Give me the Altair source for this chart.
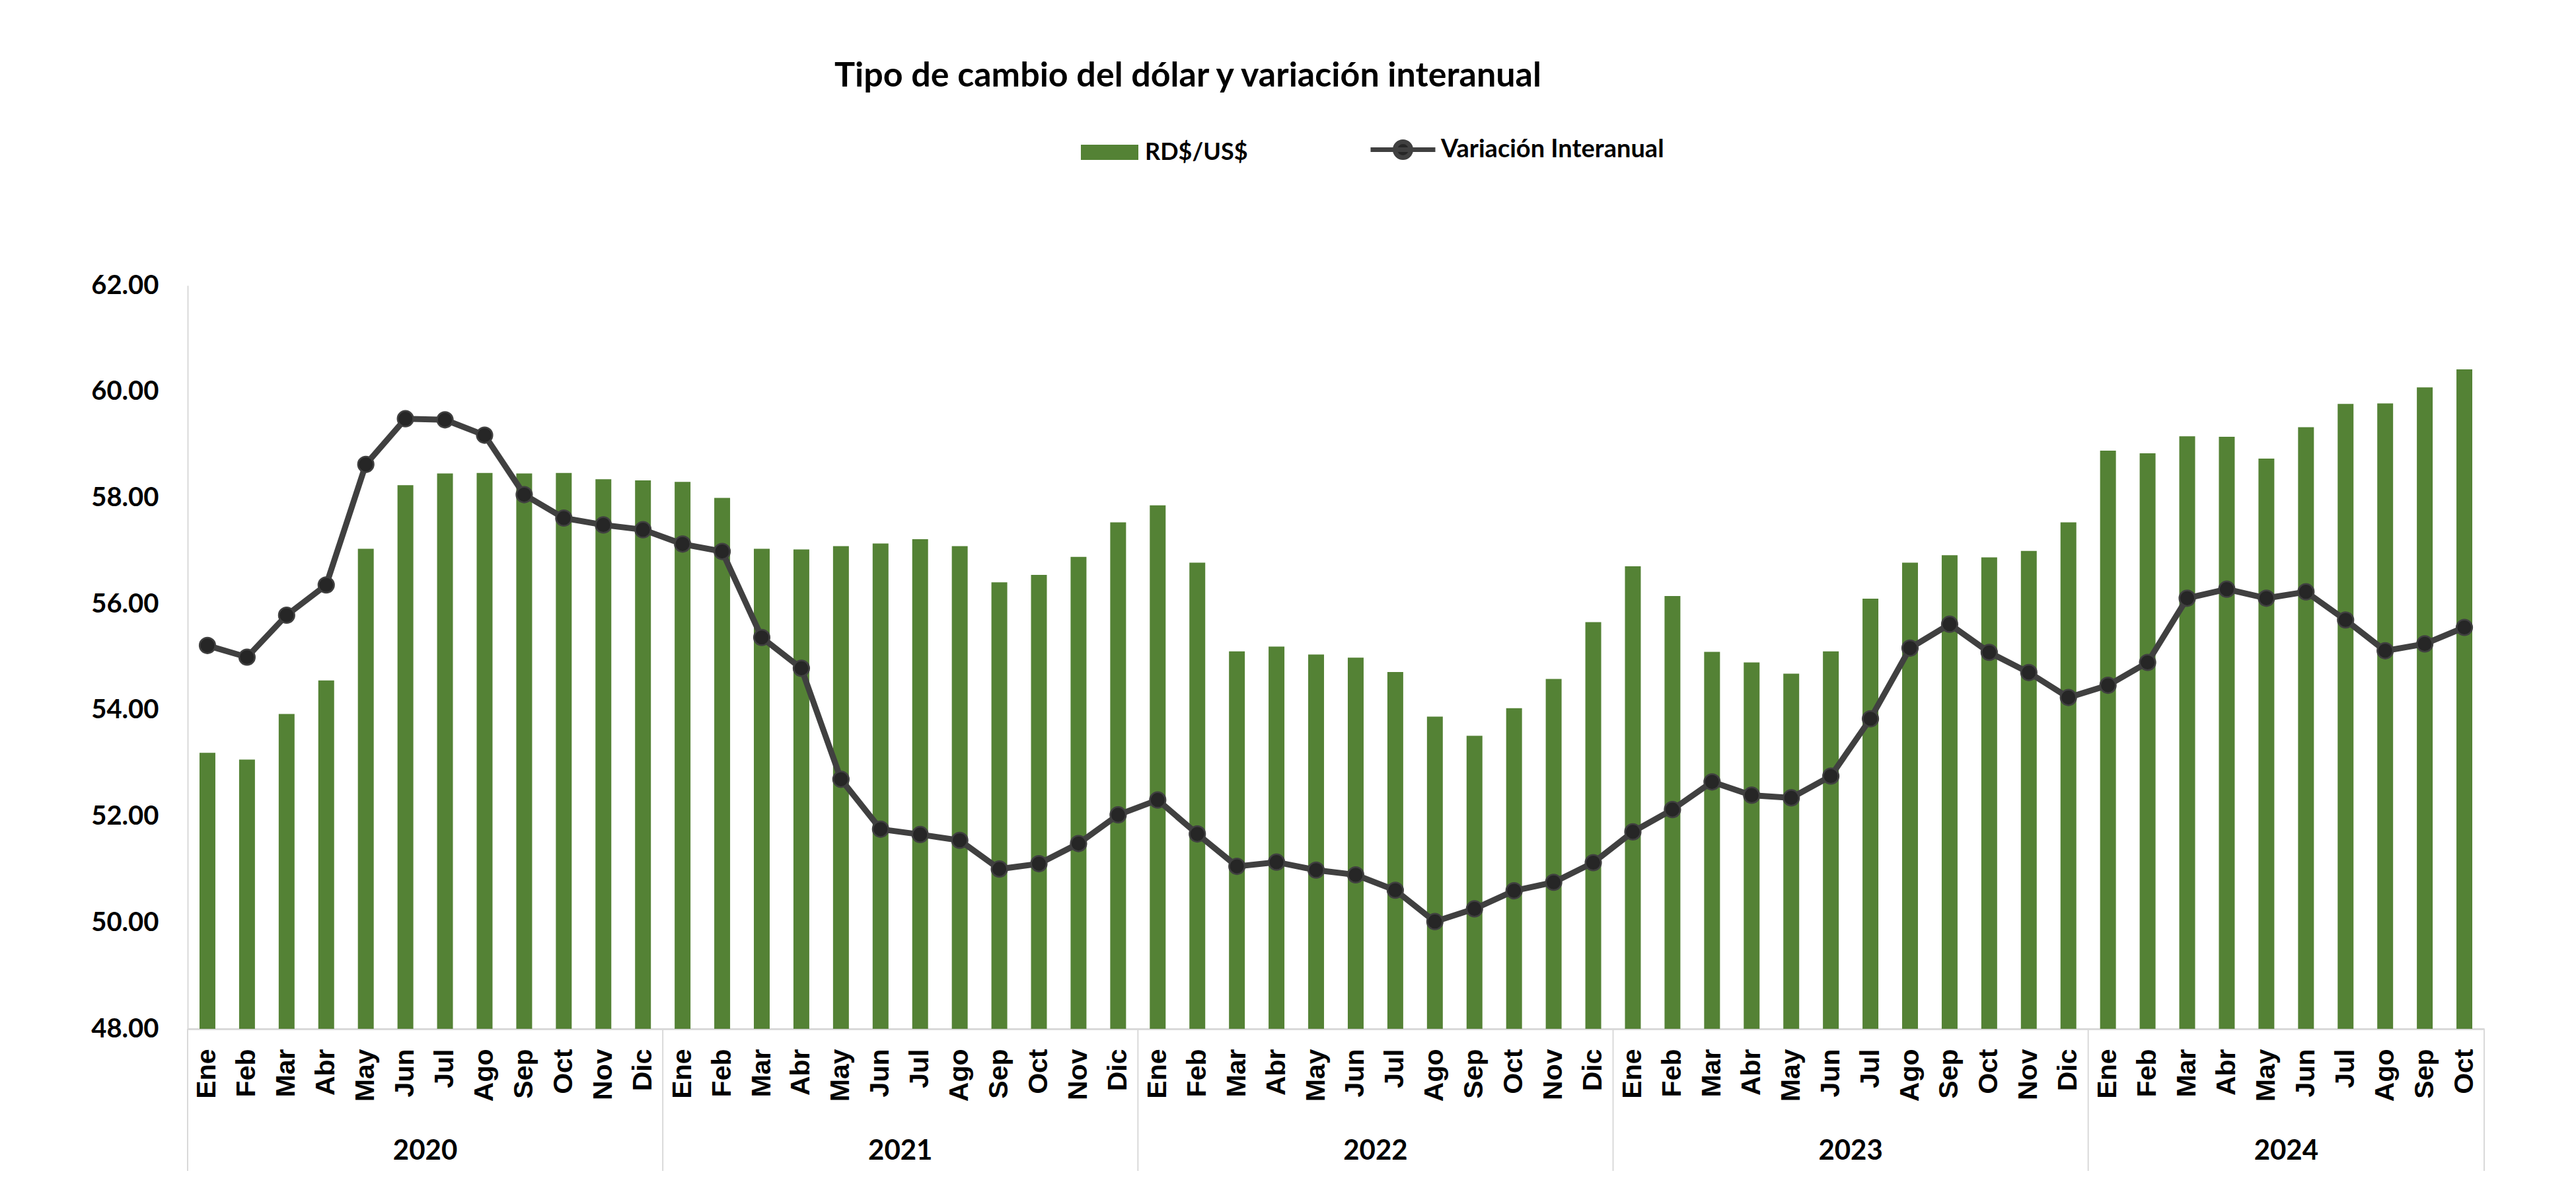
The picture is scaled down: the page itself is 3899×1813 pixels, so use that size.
import altair as alt
import pandas as pd

# ---------------- data ----------------
meses = ["Ene", "Feb", "Mar", "Abr", "May", "Jun", "Jul", "Ago", "Sep", "Oct", "Nov", "Dic"]
anios = ["2020", "2021", "2022", "2023", "2024"]
meses_por_anio = [12, 12, 12, 12, 10]

tasa = [
    53.20, 53.07, 53.93, 54.56, 57.04, 58.24, 58.46, 58.47, 58.46, 58.47, 58.35, 58.33,
    58.30, 58.00, 57.04, 57.03, 57.09, 57.14, 57.22, 57.09, 56.41, 56.55, 56.89, 57.54,
    57.86, 56.78, 55.11, 55.20, 55.05, 54.99, 54.72, 53.88, 53.52, 54.04, 54.59, 55.66,
    56.71, 56.15, 55.10, 54.90, 54.69, 55.11, 56.10, 56.78, 56.92, 56.88, 57.00, 57.54,
    58.89, 58.84, 59.16, 59.15, 58.74, 59.33, 59.77, 59.78, 60.08, 60.42,
]
variacion = [
    55.22, 55.00, 55.79, 56.36, 58.63, 59.49, 59.47, 59.18, 58.06, 57.62, 57.49, 57.40,
    57.13, 56.99, 55.37, 54.79, 52.70, 51.76, 51.66, 51.55, 51.01, 51.11, 51.49, 52.03,
    52.31, 51.67, 51.06, 51.14, 50.99, 50.90, 50.61, 50.02, 50.26, 50.60, 50.76, 51.13,
    51.71, 52.13, 52.65, 52.40, 52.35, 52.76, 53.84, 55.17, 55.62, 55.09, 54.71, 54.24,
    54.47, 54.90, 56.11, 56.28, 56.11, 56.23, 55.70, 55.12, 55.25, 55.56,
]
y_ticks = [48, 50, 52, 54, 56, 58, 60, 62]
serie_barras = "RD$/US$"
serie_linea = "Variación Interanual"
titulo = "Tipo de cambio del dólar y variación interanual"

# ---------------- tables ----------------
rows = []
i = 0
for a, n in zip(anios, meses_por_anio):
    for m in range(n):
        rows.append({"idx": i, "anio": a, "mes": meses[m],
                     "tasa": tasa[i], "variacion": variacion[i],
                     "sb": serie_barras, "sl": serie_linea})
        i += 1
df = pd.DataFrame(rows)
N = len(df)

sep, cen = [], []
start = 0
for a, n in zip(anios, meses_por_anio):
    sep.append(start - 0.5)
    cen.append({"anio": a, "c": start + (n - 1) / 2})
    start += n
sep.append(start - 0.5)
df_sep = pd.DataFrame({"pos": sep})
df_cen = pd.DataFrame(cen)

W, H = 3476, 1125
FONT = "Lato"
xscale = alt.Scale(domain=[-0.5, N - 0.5], nice=False, zero=False)
yscale = alt.Scale(domain=[y_ticks[0], y_ticks[-1]], nice=False, zero=False)
label_expr = "[" + ",".join("'%s'" % m for m in meses) + "][datum.value % 12]"

x_axis = alt.Axis(
    values=list(range(N)), labelExpr=label_expr, labelAngle=270,
    labelFont="Liberation Sans", labelFontSize=41, labelFontWeight="bold",
    labelColor="black", labelPadding=30, ticks=False, grid=False,
    domainColor="#d9d9d9", domainWidth=3, labelOverlap=False, labelBound=False,
    title=None)
y_axis = alt.Axis(
    values=y_ticks, format=".2f", labelFont=FONT, labelFontSize=40,
    labelFontWeight="bold", labelColor="black", labelPadding=44, ticks=False,
    grid=False, domainColor="#d9d9d9", domainWidth=2, title=None)

base = alt.Chart(df)

bars = base.transform_calculate(
    x0="datum.idx - 0.2", x1="datum.idx + 0.2"
).mark_bar(color="#548235").encode(
    x=alt.X("x0:Q", scale=xscale, axis=x_axis),
    x2="x1:Q",
    y=alt.Y("tasa:Q", scale=yscale, axis=y_axis),
    y2=alt.Y2(datum=y_ticks[0]),
    color=alt.Color("sb:N", scale=alt.Scale(range=["#548235"]), legend=alt.Legend(
        title=None, orient="none", legendX=1352, legendY=-245, padding=0,
        symbolType="M-1,-0.264 L1,-0.264 L1,0.264 L-1,0.264 Z", symbolSize=7569,
        symbolStrokeWidth=0, labelFont=FONT, labelFontSize=36, labelFontWeight="bold",
        labelColor="black", labelOffset=10, labelLimit=0)),
)

line = base.mark_line(color="#404040", strokeWidth=9).encode(
    x=alt.X("idx:Q", scale=xscale, axis=x_axis),
    y=alt.Y("variacion:Q", scale=yscale, axis=y_axis),
)

pts = base.mark_circle(size=560, opacity=1, stroke="#404040", strokeWidth=2.5).encode(
    x=alt.X("idx:Q", scale=xscale, axis=x_axis),
    y=alt.Y("variacion:Q", scale=yscale, axis=y_axis),
    color=alt.Color("sl:N", scale=alt.Scale(range=["#262626"]), legend=alt.Legend(
        title=None, orient="none", legendX=1787, legendY=-258, padding=0,
        symbolType="M-1,0 L1,0 M0.245,0 A0.245,0.245 0 1,1 -0.245,0 A0.245,0.245 0 1,1 0.245,0 Z",
        symbolSize=9604, symbolStrokeColor="#404040", symbolStrokeWidth=7,
        symbolFillColor="#262626", symbolOpacity=1,
        labelFont=FONT, labelFontSize=38, labelFontWeight="bold",
        labelColor="black", labelOffset=5, labelLimit=0)),
)

seps = alt.Chart(df_sep).mark_rule(color="#d9d9d9", strokeWidth=2).encode(
    x=alt.X("pos:Q", scale=xscale, axis=x_axis),
    y=alt.value(H), y2=alt.value(H + 215),
)

years = alt.Chart(df_cen).mark_text(
    font=FONT, fontSize=42, fontWeight="bold", color="black", baseline="middle"
).encode(
    x=alt.X("c:Q", scale=xscale, axis=x_axis),
    y=alt.value(H + 185),
    text="anio:N",
)

chart = alt.layer(bars, line, pts, seps, years).resolve_scale(
    color="independent"
).resolve_legend(color="independent").properties(
    width=W, height=H,
    background="white",
    autosize=alt.AutoSizeParams(type="none"),
    padding={"left": 276, "top": 424, "right": 120, "bottom": 240},
    title=alt.TitleParams(text=titulo, anchor="start", frame="group", dx=979, dy=-28,
                          font=FONT, fontSize=52, fontWeight="bold", color="black"),
).configure_view(stroke=None)

chart.save("out.html", embed_options={"renderer": "svg", "actions": False})
